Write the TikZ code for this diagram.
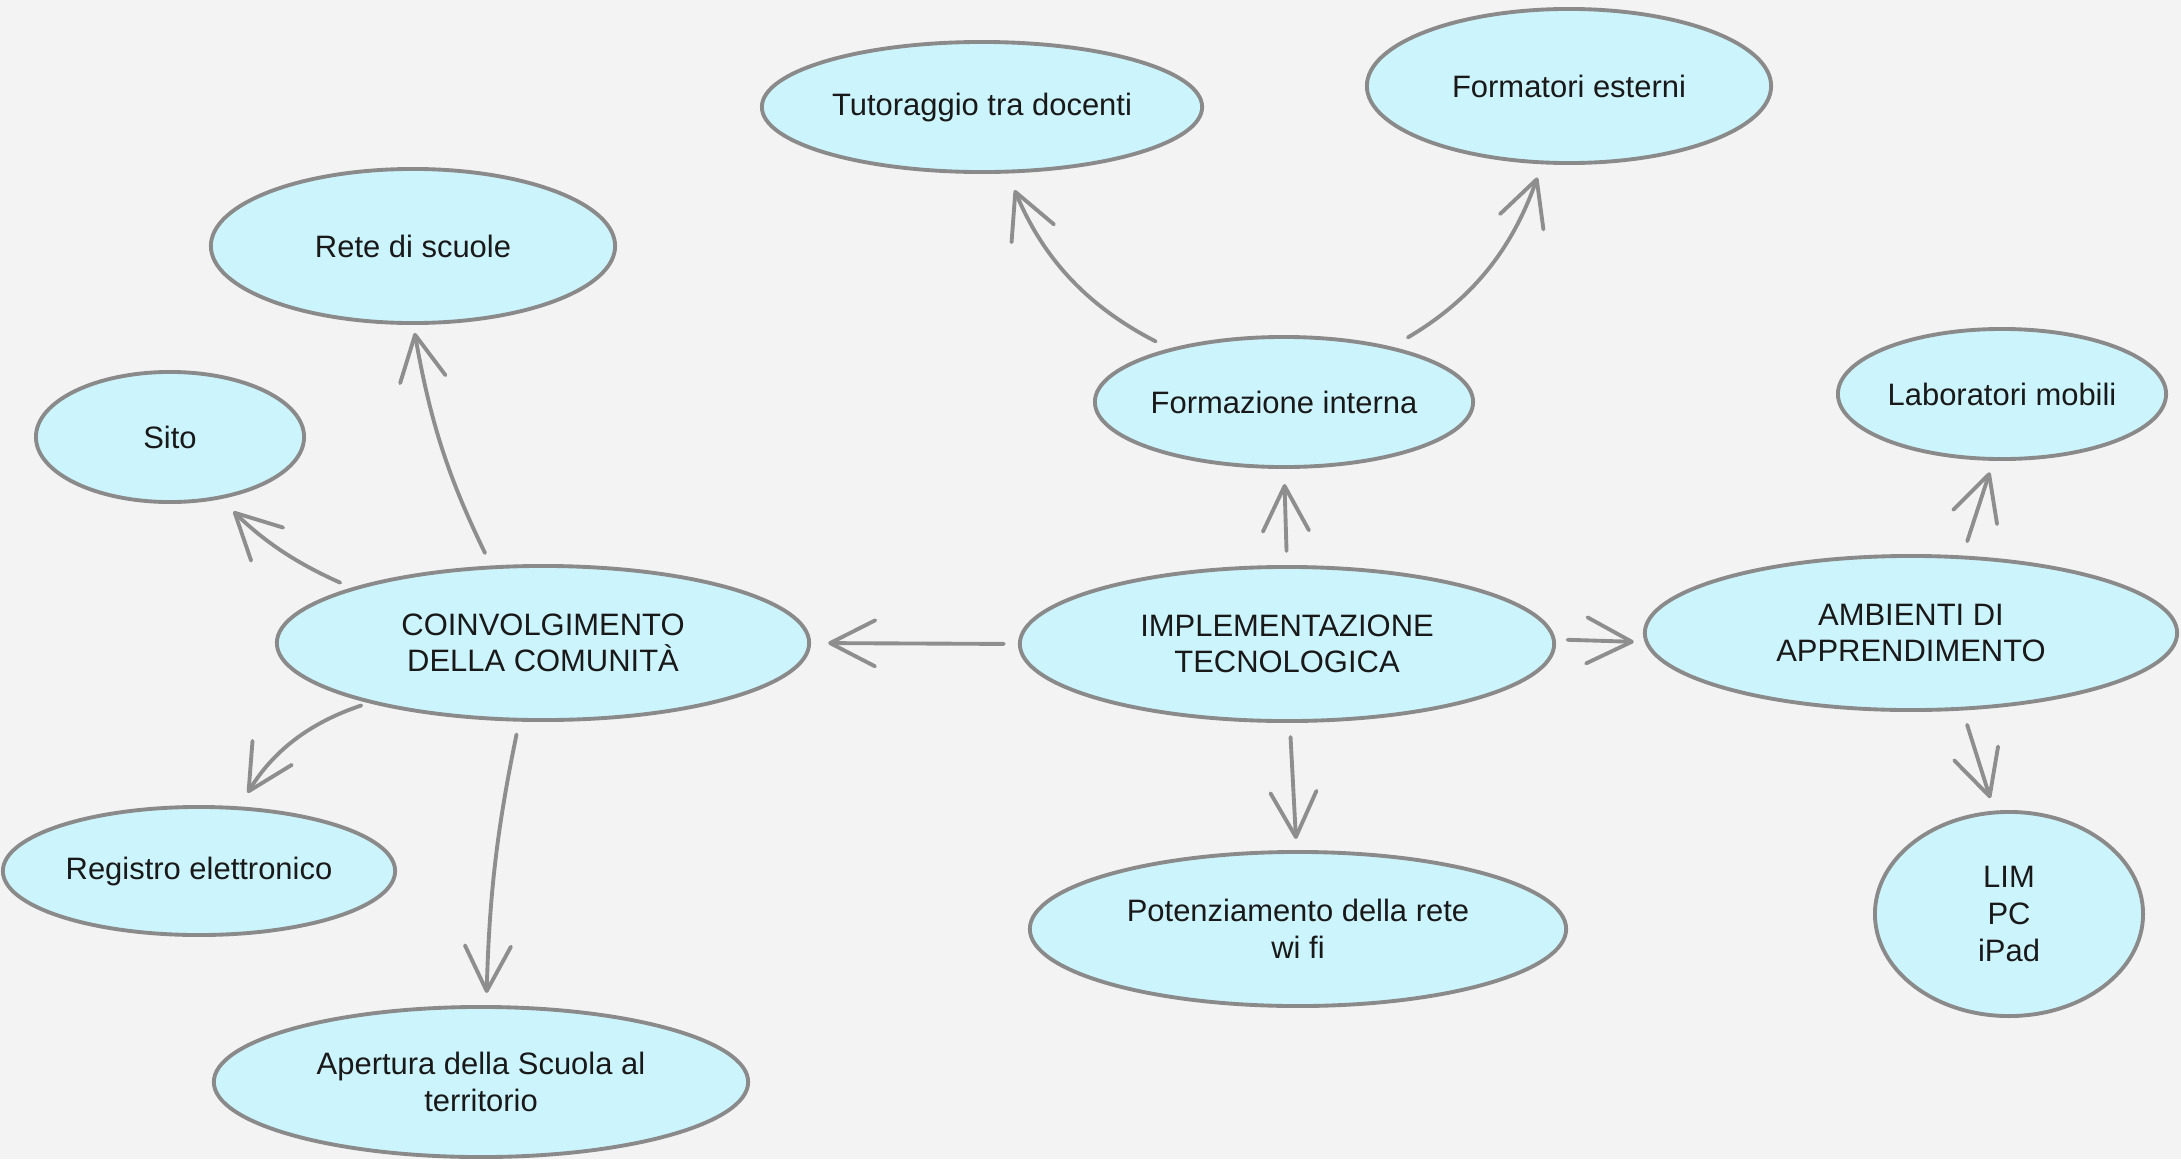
\documentclass[tikz,border=0pt]{standalone}
\usepackage{fontspec}
\setmainfont{Liberation Sans}
\usetikzlibrary{shapes.geometric,arrows.meta}
\definecolor{bg}{HTML}{F3F3F3}
\definecolor{bub}{HTML}{CCF4FC}
\definecolor{edgec}{HTML}{8A8A8A}
\definecolor{linec}{HTML}{8E8E8E}
\begin{document}
\begin{tikzpicture}[x=0.01cm,y=0.01cm,
  bubble/.style={ellipse,draw=edgec,line width=1.1pt,fill=bub,inner sep=0pt,outer sep=0pt,
    align=center,font=\fontsize{8.8}{10.4}\selectfont,text=black!90},
  conn/.style={draw=linec,line width=1.1pt,line cap=round,
    -{Straight Barb[length=4.5mm,width=4.6mm,round]}}]
\fill[bg] (0,0) rectangle (2181,1159);
\useasboundingbox (0,0) rectangle (2181,1159);

\node[bubble,minimum width=4.40cm,minimum height=1.30cm] (tutor) at (982,1052) {Tutoraggio tra docenti};
\node[bubble,minimum width=4.04cm,minimum height=1.54cm] (formext) at (1569,1073) {Formatori esterni};
\node[bubble,minimum width=4.04cm,minimum height=1.54cm] (rete) at (413,913) {Rete di scuole};
\node[bubble,minimum width=2.68cm,minimum height=1.30cm] (sito) at (170,722) {Sito};
\node[bubble,minimum width=3.78cm,minimum height=1.30cm] (forint) at (1284,757) {Formazione interna};
\node[bubble,minimum width=3.28cm,minimum height=1.30cm] (lab) at (2002,765) {Laboratori mobili};
\node[bubble,minimum width=5.32cm,minimum height=1.54cm] (coin) at (543,516) {COINVOLGIMENTO\\DELLA COMUNITÀ};
\node[bubble,minimum width=5.34cm,minimum height=1.54cm] (impl) at (1287,515) {IMPLEMENTAZIONE\\TECNOLOGICA};
\node[bubble,minimum width=5.32cm,minimum height=1.54cm] (ambi) at (1911,526) {AMBIENTI DI\\APPRENDIMENTO};
\node[bubble,minimum width=3.92cm,minimum height=1.28cm] (reg) at (199,288) {Registro elettronico};
\node[bubble,minimum width=5.36cm,minimum height=1.54cm] (pot) at (1298,230) {Potenziamento della rete\\wi fi};
\node[bubble,minimum width=2.68cm,minimum height=2.04cm] (lim) at (2009,245) {LIM\\PC\\iPad};
\node[bubble,minimum width=5.34cm,minimum height=1.50cm] (aper) at (481,77) {Apertura della Scuola al\\territorio};

\draw[conn,shorten <=0.15cm,shorten >=0.20cm] (coin.164) to[bend left=10] (sito.-51);
\draw[conn,shorten <=0.16cm,shorten >=0.10cm] (coin.124) to[bend left=8] (rete.-90);
\draw[conn,shorten <=0.11cm,shorten >=0.18cm] (coin.199) to[bend right=20] (reg.58);
\draw[conn,shorten <=0.15cm,shorten >=0.14cm] (coin.253) to[bend right=5] (aper.86);
\draw[conn,shorten <=0.16cm,shorten >=0.19cm] (impl.180) -- (coin.0);
\draw[conn,shorten <=0.16cm,shorten >=0.17cm] (impl.90) -- (forint.-90);
\draw[conn,shorten <=0.16cm,shorten >=0.13cm] (impl.-88) -- (pot.91);
\draw[conn,shorten <=0.14cm,shorten >=0.13cm] (impl.1) -- (ambi.182);
\draw[conn,shorten <=0.18cm,shorten >=0.20cm] (forint.155) to[bend left=20] (tutor.-69);
\draw[conn,shorten <=0.21cm,shorten >=0.16cm] (forint.27) to[bend right=20] (formext.251);
\draw[conn,shorten <=0.17cm,shorten >=0.14cm] (ambi.56) -- (lab.263);
\draw[conn,shorten <=0.17cm,shorten >=0.15cm] (ambi.-56) -- (lim.98);
\end{tikzpicture}
\end{document}
